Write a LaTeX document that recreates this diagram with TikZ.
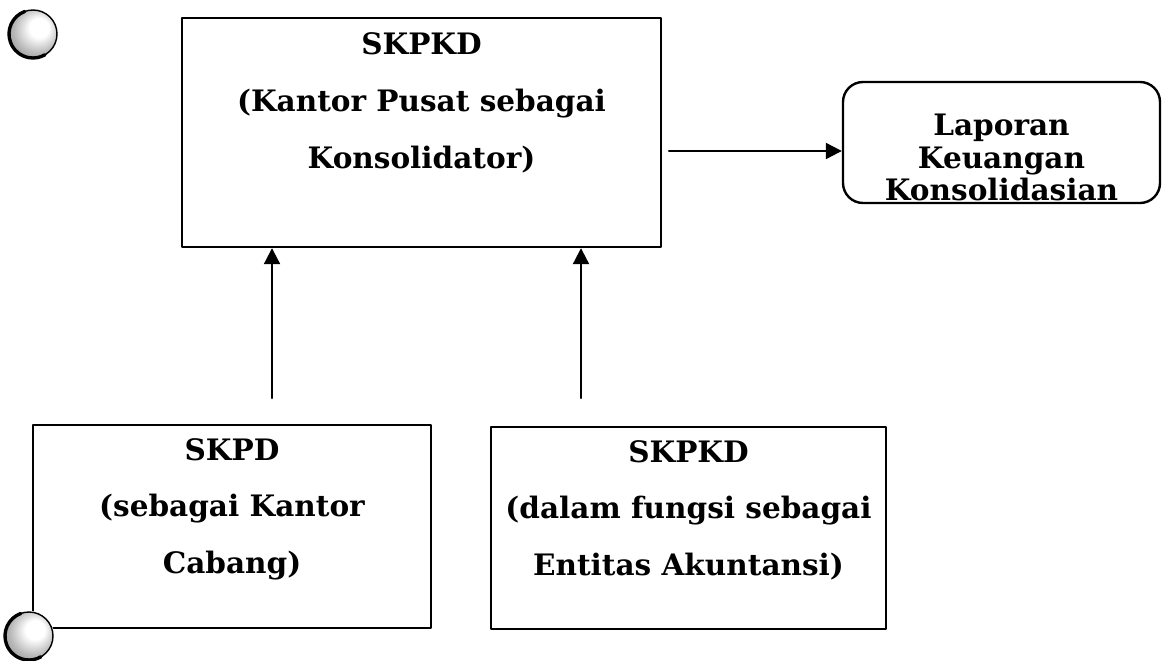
\documentclass[tikz,border=0pt]{standalone}
\usepackage{fontspec}
\setmainfont{DejaVu Serif}
\usepackage{tikz}
\usetikzlibrary{arrows.meta,positioning}

% bola dengan sorotan di kanan atas
\pgfdeclareradialshading{bolaku}{\pgfpoint{8bp}{8bp}}{%
	color(0bp)=(white); color(10bp)=(white); color(24bp)=(gray!55);
	color(34bp)=(gray!85); color(50bp)=(gray!85)}

\begin{document}
\begin{tikzpicture}[
	kotak/.style={draw, line width=1.7pt, inner sep=0pt},
	isi/.style={font=\bfseries\fontsize{21}{40.5}\selectfont, align=center, inner sep=0pt},
	isirapat/.style={font=\bfseries\fontsize{21}{23}\selectfont, align=center, inner sep=0pt},
	panah/.style={line width=1.5pt, -{Triangle[length=0.4cm, width=0.4cm]}},
	bola/.style={shading=bolaku},
	line cap=round,
	line join=round
	]
	
	\useasboundingbox (0,0) rectangle (29.05,16.5);
	
	% Konsolidator
	\node[kotak, minimum width=11.975cm, minimum height=5.725cm] (pusat) at (10.5375,13.1875) {};
	\node[isi, below=0.4cm of pusat.north] (tpusat)
	{SKPKD\\(Kantor Pusat sebagai\\Konsolidator)};
	
	% Laporan
	\node[kotak, rounded corners=0.5cm, minimum width=7.925cm, minimum height=3.025cm] (lapor) at (25.0375,12.9375) {};
	\node[isirapat, below=0.83cm of lapor.north] (tlapor)
	{Laporan\\Keuangan\\Konsolidasian};
	
	% Entitas di bawah
	\node[kotak, minimum width=9.95cm, minimum height=5.075cm] (cabang) at (5.8,3.3375) {};
	\node[isi, below=0.35cm of cabang.north] (tcabang)
	{SKPD\\(sebagai Kantor\\Cabang)};
	
	\node[kotak, minimum width=9.875cm, minimum height=5.05cm] (entitas) at (17.2125,3.3) {};
	\node[isi, below=0.35cm of entitas.north] (tentitas)
	{SKPKD\\(dalam fungsi sebagai\\Entitas Akuntansi)};
	
	% Panah
	\coordinate (ekora) at (6.8,6.55);
	\coordinate (ekorb) at (14.525,6.55);
	\coordinate (ekorc) at (16.725,12.725);
	\draw[panah] (ekora) -- (ekora |- pusat.south);
	\draw[panah] (ekorb) -- (ekorb |- pusat.south);
	\draw[panah] (ekorc) -- (ekorc -| lapor.west);
	
	% Bola hiasan
	\shade[bola] (0.825,15.65) circle (0.6);
	\draw[line width=1pt] (0.825,15.65) circle (0.6);
	\draw[line width=2.4pt] (0.825,15.65) ++(110:0.6) arc (110:300:0.6);
	\fill[white] (0.725,0.6) circle (0.63);
	\shade[bola] (0.725,0.6) circle (0.6);
	\draw[line width=1pt] (0.725,0.6) circle (0.6);
	\draw[line width=2.4pt] (0.725,0.6) ++(110:0.6) arc (110:300:0.6);
	
\end{tikzpicture}
\end{document}
